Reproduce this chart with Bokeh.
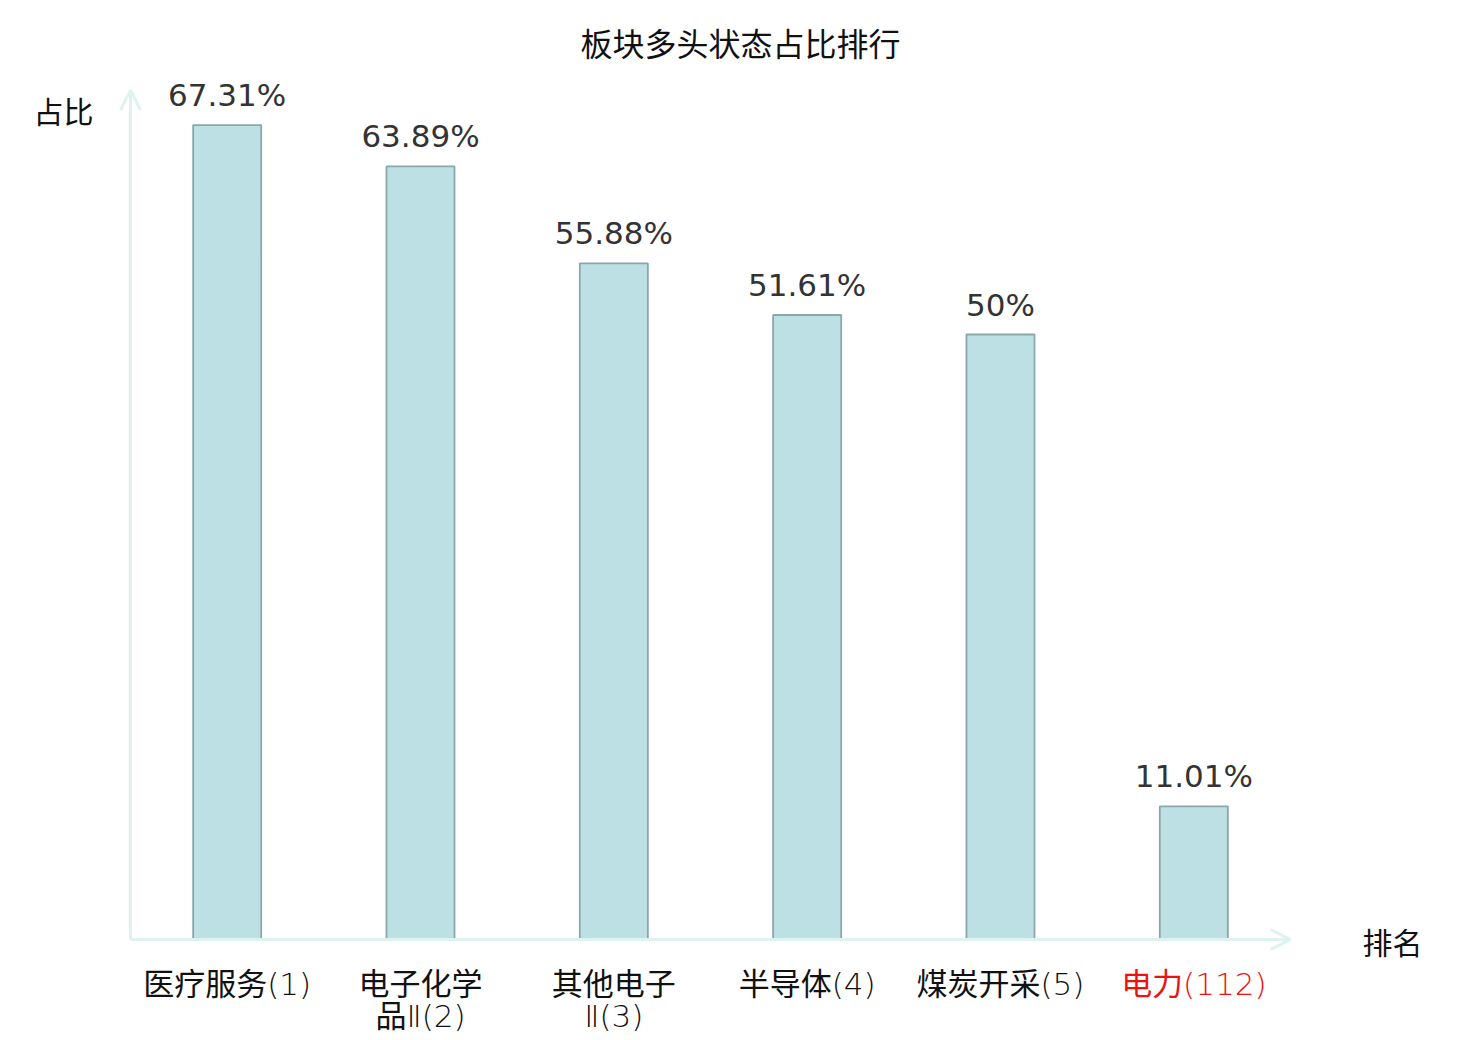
from bokeh.plotting import figure
from bokeh.models import Range1d, Arrow, OpenHead, Label, LabelSet, ColumnDataSource
from bokeh.core.properties import value
from bokeh.embed import file_html
from bokeh.resources import INLINE

names = ["医疗服务", "电子化学品Ⅱ", "其他电子Ⅱ", "半导体", "煤炭开采", "电力"]
ranks = [1, 2, 3, 4, 5, 112]
values = [67.31, 63.89, 55.88, 51.61, 50.0, 11.01]
title_text = "板块多头状态占比排行"
y_title = "占比"
x_title = "排名"

def wrap(name, rank):
    if len(name) > 4:
        return name[:4], name[4:] + f"({rank})"
    return f"{name}({rank})", ""

xs = list(range(len(names)))
lines = [wrap(n, r) for n, r in zip(names, ranks)]
line1 = [a for a, b in lines]
line2 = [b for a, b in lines]
val_labels = [f"{v:g}%" for v in values]
label_colors = ["#ee1111" if r == max(ranks) else "#111111" for r in ranks]

src = ColumnDataSource(dict(x=xs, top=values, vlab=val_labels, l1=line1, l2=line2, ccol=label_colors))

# canvas geometry
W, H = 1464, 1032
ox, oy = 130, 939          # pixel position of the axes origin
px_cat = 193.33            # pixels per category
px_unit = 12.1             # pixels per percentage point
ymax = 70.2

x0 = -0.5 - ox / px_cat
x1 = x0 + W / px_cat
y0 = -(H - oy) / px_unit
y1 = y0 + H / px_unit

p = figure(width=W, height=H, x_range=Range1d(x0, x1), y_range=Range1d(y0, y1),
           output_backend="svg", toolbar_location=None, x_axis_location=None, y_axis_location=None,
           min_border=0)
p.outline_line_color = None
p.xgrid.visible = False
p.ygrid.visible = False

axis_col = "#def2ef"
p.add_layout(Arrow(end=OpenHead(size=20, line_color=axis_col, line_width=3),
                   x_start=-0.5, y_start=0, x_end=len(names) - 0.5, y_end=0,
                   line_color=axis_col, line_width=3))
p.add_layout(Arrow(end=OpenHead(size=20, line_color=axis_col, line_width=3),
                   x_start=-0.5, y_start=0, x_end=-0.5, y_end=ymax,
                   line_color=axis_col, line_width=3))

p.vbar(x="x", top="top", bottom=0, width=0.352, source=src,
       fill_color="#bce0e3", line_color="#8aa8aa", line_width=1.8)

p.add_layout(LabelSet(x="x", y="top", text="vlab", source=src, text_align="center",
                      text_baseline="bottom", y_offset=12, text_font_size="31px",
                      text_font=value("DejaVu Sans"), text_color="#333333"))
cat_font = value("'DejaVu Sans Light', 'Noto Sans CJK SC'")
p.add_layout(LabelSet(x="x", y=0, text="l1", source=src, text_align="center",
                      text_baseline="middle", y_offset=-44, text_font_size="31px",
                      text_font=cat_font, text_color="ccol"))
p.add_layout(LabelSet(x="x", y=0, text="l2", source=src, text_align="center",
                      text_baseline="middle", y_offset=-76, text_font_size="31px",
                      text_font=cat_font, text_color="ccol"))

p.add_layout(Label(x=-0.5, y=0, x_offset=610, y_offset=898, text=title_text, text_align="center",
                   text_baseline="middle", text_font_size="32px", text_font="Noto Sans CJK SC",
                   text_color="#111111"))
p.add_layout(Label(x=-0.5, y=0, x_offset=-67, y_offset=830, text=y_title, text_align="center",
                   text_baseline="middle", text_font_size="30px", text_font="Noto Sans CJK SC",
                   text_color="#111111"))
p.add_layout(Label(x=len(names) - 0.5, y=0, x_offset=102, y_offset=-1, text=x_title, text_align="center",
                   text_baseline="middle", text_font_size="30px", text_font="Noto Sans CJK SC",
                   text_color="#111111"))

open("out.html", "w").write(file_html(p, INLINE))
